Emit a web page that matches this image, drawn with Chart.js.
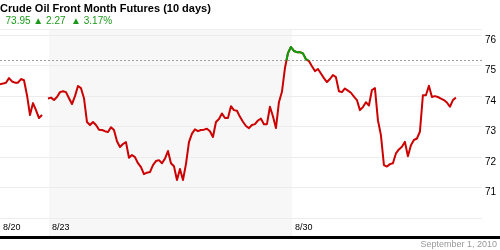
<!DOCTYPE html>
<html>
<head>
<meta charset="utf-8">
<script src="https://cdn.jsdelivr.net/npm/chart.js@4.4.0/dist/chart.umd.min.js"></script>
<style>
  body { margin: 0; background: #fff; }
  #wrap { width: 500px; height: 250px; position: relative; }
</style>
</head>
<body>
<div id="wrap"><canvas id="oilChart"></canvas></div>
<script>
// 10 days of front month crude, one sample per step on the x axis
const prices = [
    74.39, 74.41, 74.44, 74.59, 74.48, 74.44, 74.44, 74.56, 74.52, 74.03,
    73.38, 73.77, 73.54, 73.28, 73.38, null, 73.92, 73.95, 73.87, 73.97,
    74.13, 74.16, 74.13, 73.93, 73.74, 74.00, 74.33, 74.26, 73.93, 73.15,
    73.05, 73.15, 73.05, 72.90, 72.89, 72.85, 72.82, 72.98, 72.89, 72.52,
    72.33, 72.43, 72.49, 71.98, 72.07, 72.00, 71.80, 71.67, 71.44, 71.49,
    71.51, 71.74, 71.87, 71.90, 71.80, 71.95, 72.20, 71.80, 71.70, 71.25,
    71.61, 71.25, 71.77, 72.49, 72.77, 72.91, 72.85, 72.89, 72.90, 72.93,
    72.85, 72.66, 73.15, 73.25, 73.43, 73.28, 73.28, 73.67, 73.54, 73.52,
    73.32, 73.16, 73.02, 72.95, 73.05, 73.08, 73.20, 73.26, 73.08, 73.08,
    73.65, 73.34, 72.95, 73.80, 74.14, 74.92, 75.41, 75.61, 75.48, 75.44,
    75.44, 75.40, 75.21, 75.15, 74.98, 74.82, 74.89, 74.74, 74.59, 74.46,
    74.56, 74.69, 74.62, 74.16, 74.13, 74.25, 74.18, 74.11, 73.98, 73.87,
    73.54, 73.64, 73.80, 73.69, 74.20, 74.26, 73.21, 72.72, 71.74, 71.69,
    71.77, 71.80, 72.12, 72.25, 72.34, 72.50, 72.03, 72.39, 72.56, 72.61,
    72.83, 74.03, 74.03, 74.34, 73.97, 74.00, 73.97, 73.92, 73.87, 73.79,
    73.65, 73.87, 73.95
];
const dayTickValues = [0, 16.33, 97.33];
const dayTickLabels = ['8/20', '8/23', '8/30'];
const shadedWeek = [16.33, 97.33];
const referenceLevel = 75.17;
const lastPrice = '73.95';
const priceChange = '2.27';
const percentChange = '3.17%';
const chartDate = 'September 1, 2010';

const redLine = '#cc0000';
const greenLine = '#08a008';
const fontFamily = '"Liberation Sans", Arial, sans-serif';

const sampleIndex = prices.map((p, i) => i);

Chart.defaults.font.family = fontFamily;

const framePlugin = {
    id: 'frame',
    beforeDraw(chart) {
        const ctx = chart.ctx;
        const area = chart.chartArea;
        const x = chart.scales.x;
        ctx.save();
        ctx.fillStyle = '#f7f7f7';
        const x0 = x.getPixelForValue(shadedWeek[0]);
        const x1 = x.getPixelForValue(shadedWeek[1]);
        ctx.fillRect(x0, area.top, x1 - x0, area.bottom - area.top);
        ctx.fillStyle = '#eeeeee';
        ctx.fillRect(area.left, area.top, area.right - area.left, 1);
        ctx.restore();
    },
    beforeDatasetsDraw(chart) {
        const ctx = chart.ctx;
        const area = chart.chartArea;
        const yPix = Math.round(chart.scales.y.getPixelForValue(referenceLevel)) + 0.5;
        ctx.save();
        ctx.strokeStyle = '#a0a0a0';
        ctx.lineWidth = 1;
        ctx.setLineDash([2, 2]);
        ctx.beginPath();
        ctx.moveTo(area.left, yPix);
        ctx.lineTo(area.right, yPix);
        ctx.stroke();
        ctx.restore();
    },
    beforeDatasetDraw(chart, args) {
        // the green copy (dataset 0, drawn last) only shows above the reference level
        if (args.index !== 0) return;
        const ctx = chart.ctx;
        const area = chart.chartArea;
        const yPix = chart.scales.y.getPixelForValue(referenceLevel);
        ctx.save();
        ctx.beginPath();
        ctx.rect(area.left, area.top - 5, area.right - area.left, yPix - area.top + 5);
        ctx.clip();
    },
    afterDatasetDraw(chart, args) {
        if (args.index !== 0) return;
        chart.ctx.restore();
    },
    afterDraw(chart) {
        const ctx = chart.ctx;
        const area = chart.chartArea;
        const x = chart.scales.x;
        ctx.save();
        ctx.fillStyle = '#000';
        ctx.fillRect(0, area.bottom - 1, chart.width, 3);

        ctx.font = '9px ' + fontFamily;
        ctx.textAlign = 'left';
        ctx.textBaseline = 'middle';
        dayTickValues.forEach((v, i) => {
            ctx.fillText(dayTickLabels[i], x.getPixelForValue(v) + 3, area.bottom - 9);
        });

        ctx.font = '9px ' + fontFamily;
        ctx.fillStyle = '#999';
        ctx.textAlign = 'right';
        ctx.fillText(chartDate, chart.width - 3, 245);
        ctx.restore();
    }
};

new Chart(document.getElementById('oilChart'), {
    type: 'line',
    data: {
        labels: sampleIndex,
        datasets: [{
            data: prices,
            borderColor: greenLine,
            borderWidth: 2,
            pointRadius: 0,
            borderJoinStyle: 'round',
            spanGaps: false
        }, {
            data: prices,
            borderColor: redLine,
            borderWidth: 2,
            pointRadius: 0,
            borderJoinStyle: 'round',
            spanGaps: false
        }]
    },
    options: {
        responsive: true,
        maintainAspectRatio: false,
        animation: false,
        layout: { padding: { left: 0, right: 0, top: 0, bottom: 13 } },
        plugins: {
            legend: { display: false },
            tooltip: { enabled: false },
            title: {
                display: true,
                text: 'Crude Oil Front Month Futures (10 days)',
                align: 'start',
                color: '#000',
                font: { size: 11, weight: 'bold', lineHeight: 1 },
                padding: { top: 3, bottom: 0 }
            },
            subtitle: {
                display: true,
                text: '  ' + lastPrice + ' \u25B2 ' + priceChange + '  \u25B2 ' + percentChange,
                align: 'start',
                color: '#1a9a1a',
                font: { size: 10, lineHeight: 1 },
                padding: { top: 2, bottom: 3 }
            }
        },
        scales: {
            x: {
                type: 'linear',
                display: false,
                min: 0,
                max: 160.7
            },
            y: {
                position: 'right',
                min: 69.38,
                max: 76.2,
                afterFit(scale) {
                    scale.width = 18;
                },
                border: { display: false },
                grid: { color: '#ececec', drawTicks: false },
                ticks: {
                    stepSize: 1,
                    includeBounds: false,
                    padding: 3,
                    labelOffset: 5,
                    color: '#000',
                    font: { size: 10 },
                    callback: (v) => (v === 70 ? '' : v)
                }
            }
        }
    },
    plugins: [framePlugin]
});
</script>
</body>
</html>
